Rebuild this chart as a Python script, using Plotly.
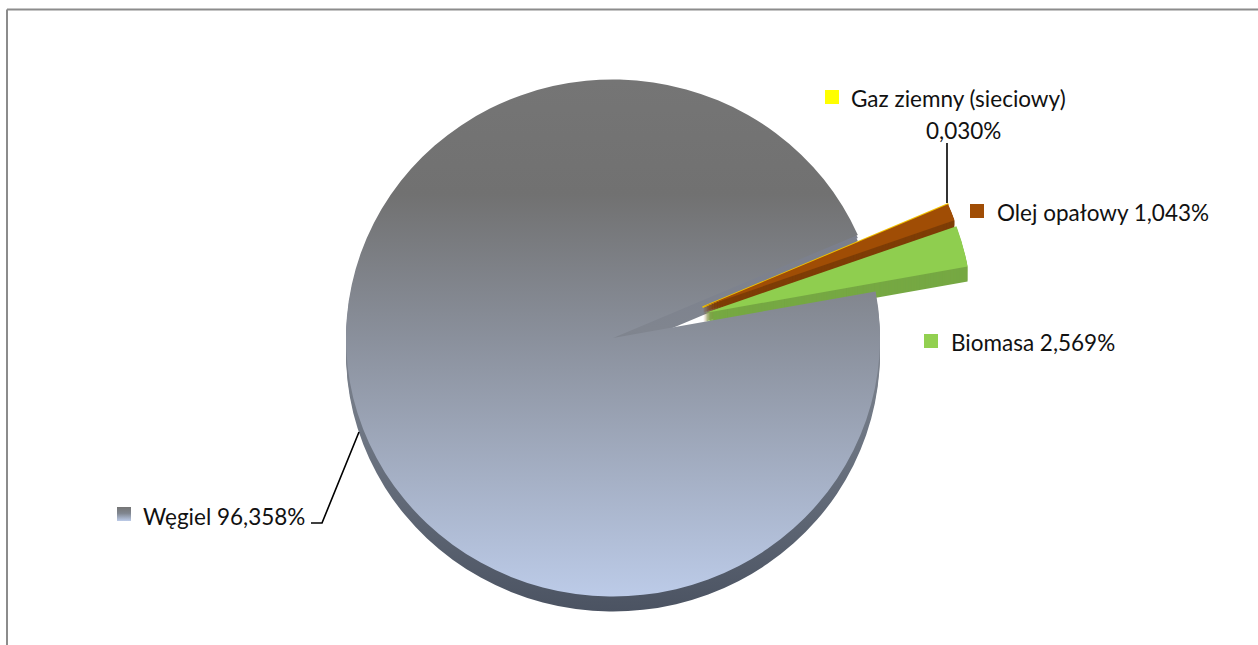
import plotly.graph_objects as go

categories = ["Gaz ziemny (sieciowy)", "Olej opałowy", "Biomasa", "Węgiel"]
values = [0.030, 1.043, 2.569, 96.358]
value_labels = ["0,030%", "1,043%", "2,569%", "96,358%"]

W, H = 1258, 645
R = 258.5
STRETCH = 267 / 258.5
CLEAR = "rgba(0,0,0,0)"
GAS, OIL, BIO, COAL = 0, 1, 2, 3
FONT = dict(family="Lato, Carlito, Calibri, sans-serif", size=22.5, color="#111111")


def pie(cx, cy, fills, gas_line=False):
    colors = [fills.get(i, CLEAR) for i in range(len(values))]
    widths = [1.4 if gas_line and i == GAS else 0 for i in range(len(values))]
    lines = ["#f2c200" if i == GAS else CLEAR for i in range(len(values))]
    return go.Pie(
        labels=categories, values=values, sort=False, direction="clockwise", rotation=66.5,
        textinfo="none", hoverinfo="none", showlegend=False,
        marker=dict(colors=colors, line=dict(color=lines, width=widths)),
        domain=dict(x=[(cx - R) / W, (cx + R) / W], y=[1 - (cy + R) / H, 1 - (cy - R) / H]),
    )


layers = []
centres = []


def add(cx, cy, fills, gas_line=False):
    layers.append(pie(cx, cy, fills, gas_line))
    centres.append(cx)


for shift in (15, 12, 9, 6, 3):
    add(613, 338 + shift, {COAL: "#6f7784"})
N_SIDE = len(layers)
for shift in range(15, 0, -1):
    add(703, 307 + shift, {OIL: "#7e3d06", GAS: "#7e3d06"})
for shift in range(15, 0, -1):
    add(705, 313 + shift, {BIO: "#76a843"})
add(705, 313, {BIO: "#8fce4f"})
for shift in range(5, 0, -1):
    add(703, 307 + shift, {OIL: "#7e3d06"})
add(703, 307, {OIL: "#a04d05", GAS: "#ffff00"}, gas_line=True)
add(613, 338, {COAL: "#8a909c"})

fig = go.Figure(layers)

shapes = [
    dict(type="line", x0=7 / W, x1=7 / W, y0=0, y1=1 - 9.5 / H, line=dict(color="#8c8c8c", width=2)),
    dict(type="line", x0=7 / W, x1=1, y0=1 - 9.5 / H, y1=1 - 9.5 / H, line=dict(color="#8c8c8c", width=2)),
]


def square(x, y, color):
    shapes.append(dict(type="rect", x0=x / W, x1=(x + 14) / W, y0=1 - y / H, y1=1 - (y + 14) / H,
                       fillcolor=color, line=dict(width=0)))


def polyline(points):
    path = "M " + " L ".join(f"{x / W:.5f},{1 - y / H:.5f}" for x, y in points)
    shapes.append(dict(type="path", path=path, line=dict(color="#000000", width=1.6)))


square(825, 90, "#ffff00")
square(970, 204, "#a04d05")
square(924, 334, "#92d050")
square(117, 507, "#9aa3b5")
COAL_SQUARE = len(shapes) - 1
polyline([(947, 143), (947, 203)])
polyline([(311, 523), (322, 523), (359, 432)])

annotations = []


def label(x, y, text, anchor="left"):
    annotations.append(dict(xref="paper", yref="paper", x=x / W, y=1 - y / H, text=text, showarrow=False,
                            xanchor=anchor, yanchor="middle", font=FONT, borderpad=0, borderwidth=0))


label(851, 99, categories[GAS])
label(963, 130, value_labels[GAS], "center")
label(997, 212, f"{categories[OIL]} {value_labels[OIL]}")
label(951, 342, f"{categories[BIO]} {value_labels[BIO]}")
label(143, 516, f"{categories[COAL]} {value_labels[COAL]}")

fig.update_layout(width=W, height=H, margin=dict(l=0, r=0, t=0, b=0), paper_bgcolor="#ffffff",
                  plot_bgcolor="#ffffff", shapes=shapes, annotations=annotations, hovermode=False)

post = """
document.body.style.margin = '0';
document.body.style.overflow = 'hidden';
var NS = 'http://www.w3.org/2000/svg';
var svg = document.querySelector('svg.main-svg');
var defs = svg.querySelector('defs');
function grad(id, y1, y2, stops, box) {
  var g = document.createElementNS(NS, 'linearGradient');
  g.setAttribute('id', id);
  if (!box) g.setAttribute('gradientUnits', 'userSpaceOnUse');
  g.setAttribute('x1', '0'); g.setAttribute('x2', '0');
  g.setAttribute('y1', y1); g.setAttribute('y2', y2);
  stops.forEach(function(s) {
    var e = document.createElementNS(NS, 'stop');
    e.setAttribute('offset', s[0]); e.setAttribute('stop-color', s[1]);
    g.appendChild(e);
  });
  defs.appendChild(g);
}
grad('coalTop', 80, 597, [[0, '#757575'], [0.22, '#717171'], [0.5, '#8a909c'], [1, '#bccbe8']]);
grad('coalSide', 230, 612, [[0, '#7a7e8c'], [0.26, '#80858f'], [0.52, '#6f7784'], [1, '#4b5362']]);
grad('coalKey', '0', '1', [[0, '#757575'], [0.45, '#808690'], [1, '#bccbe8']], true);
var traces = document.querySelectorAll('g.pielayer g.trace');
var cx = %s;
var nSide = %d;
traces.forEach(function(t, i) {
  t.setAttribute('transform', 'translate(' + cx[i] + ',0) scale(%s,1) translate(' + (-cx[i]) + ',0)');
  if (i < nSide) t.querySelectorAll('path.surface')[3].style.fill = 'url(#coalSide)';
});
traces[traces.length - 1].querySelectorAll('path.surface')[3].style.fill = 'url(#coalTop)';
var key = document.querySelector('.shapelayer path[data-index="%d"]');
if (key) key.style.fill = 'url(#coalKey)';
""" % (centres, N_SIDE, STRETCH, COAL_SQUARE)

fig.write_html("out.html", post_script=post, config={"displayModeBar": False})
